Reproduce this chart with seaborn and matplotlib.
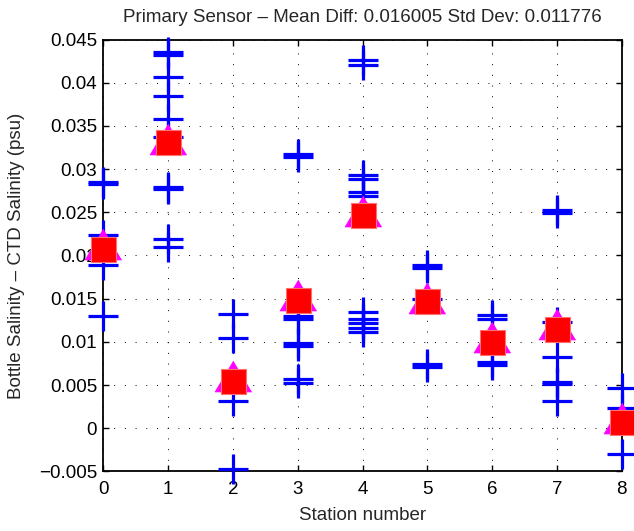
import matplotlib
matplotlib.use('Agg')
import matplotlib.pyplot as plt
import seaborn as sns

# individual bottle - CTD differences per station
stations = [0, 0, 0, 0, 0,
            1, 1, 1, 1, 1, 1, 1, 1, 1, 1,
            2, 2, 2, 2,
            3, 3, 3, 3, 3, 3, 3, 3,
            4, 4, 4, 4, 4, 4, 4, 4, 4, 4, 4,
            5, 5, 5, 5, 5,
            6, 6, 6, 6,
            7, 7, 7, 7, 7, 7, 7,
            8, 8, 8]
diffs = [0.0285, 0.0283, 0.0224, 0.0189, 0.0130,
         0.0435, 0.0432, 0.0407, 0.0385, 0.0358, 0.0337, 0.0279, 0.0277, 0.0219, 0.0210,
         0.0132, 0.0104, 0.0031, -0.0047,
         0.0318, 0.0314, 0.0130, 0.0127, 0.0099, 0.0095, 0.0057, 0.0052,
         0.0426, 0.0420, 0.0293, 0.0289, 0.0273, 0.0269, 0.0135, 0.0127, 0.0122, 0.0116, 0.0112,
         0.0189, 0.0186, 0.0150, 0.0074, 0.0071,
         0.0131, 0.0126, 0.0077, 0.0073,
         0.0253, 0.0249, 0.0123, 0.0083, 0.0054, 0.0051, 0.0031,
         0.0047, 0.0023, -0.0030]

# per-station summary markers
station_ids = [0, 1, 2, 3, 4, 5, 6, 7, 8]
tri_diff = [0.0213, 0.0335, 0.0060, 0.0154, 0.0252, 0.0151, 0.0106, 0.0121, 0.0012]
mean_diff = [0.0208, 0.0331, 0.0055, 0.0149, 0.0247, 0.0147, 0.0100, 0.0115, 0.0007]

y_ticks = [-0.005, 0, 0.005, 0.01, 0.015, 0.02, 0.025, 0.03, 0.035, 0.04, 0.045]
y_labels = ['\u22120.005', '0', '0.005', '0.01', '0.015', '0.02', '0.025',
            '0.03', '0.035', '0.04', '0.045']

sns.set_style('ticks')
plt.rcParams['font.family'] = ['Liberation Sans', 'DejaVu Sans']

fig = plt.figure(figsize=(6.34, 5.31), dpi=100)
ax = fig.add_axes([0.163, 0.1121, 0.8176, 0.8135])

sns.scatterplot(x=stations, y=diffs, marker='+', s=21 ** 2, color='#0000ff',
                linewidth=2.3, ax=ax, clip_on=False, zorder=3)
tri = [(0, 0.84), (-1, -0.84), (1, -0.84)]
sns.scatterplot(x=station_ids, y=tri_diff, marker=tri, s=26.5 ** 2, color='#ff00ff',
                edgecolor='#ff00ff', linewidth=0.5, ax=ax, clip_on=False, zorder=4)
sns.scatterplot(x=station_ids, y=mean_diff, marker='s', s=18 ** 2, color='#ff0000',
                edgecolor='#ff7070', linewidth=0.8, ax=ax, clip_on=False, zorder=5)

ax.set_xlim(0, 8)
ax.set_ylim(-0.005, 0.045)
ax.set_xticks(station_ids)
ax.set_yticks(y_ticks)
ax.set_yticklabels(y_labels)
ax.tick_params(direction='in', top=True, right=True, length=4, width=1,
               labelsize=13.5, colors='black')
ax.tick_params(axis='x', pad=7)
ax.tick_params(axis='y', pad=4.5)
ax.grid(True, color='black', linestyle=(0, (1, 10)), linewidth=0.7)
for sp in ax.spines.values():
    sp.set_linewidth(1.3)
    sp.set_color('black')
    sp.set_visible(True)

ax.set_title('Primary Sensor \u2013 Mean Diff: 0.016005 Std Dev: 0.011776',
             fontsize=13.5, pad=12.5)
ax.set_xlabel('Station number', fontsize=13.5, labelpad=6)
ax.set_ylabel('Bottle Salinity \u2013 CTD Salinity (psu)', fontsize=13.5, labelpad=10)

fig.savefig('out.png', dpi=100)
